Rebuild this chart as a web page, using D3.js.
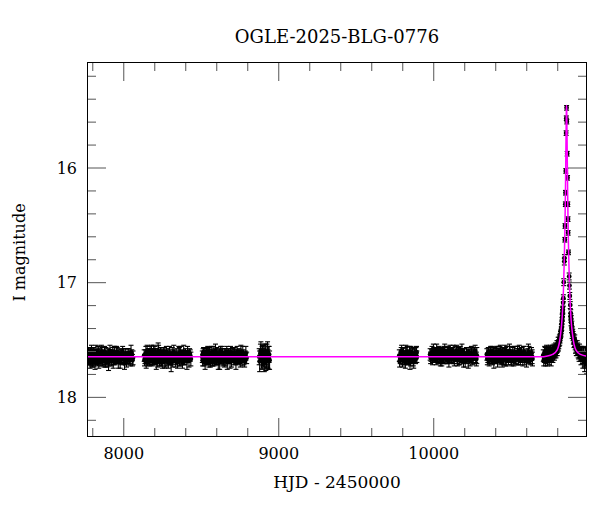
<!DOCTYPE html>
<html>
<head>
<meta charset="utf-8">
<script src="https://cdn.jsdelivr.net/npm/d3@7"></script>
<style>
  html, body { margin: 0; padding: 0; background: #fff; }
  svg { display: block; }
  text { font-family: "DejaVu Serif", "Liberation Serif", serif; fill: #000; }
</style>
</head>
<body>
<svg id="chart" width="600" height="512"></svg>
<script>
// ---------- data ----------
const title = "OGLE-2025-BLG-0776";
const xLabel = "HJD - 2450000";
const yLabel = "I magnitude";
const xMajorTicks = [8000, 9000, 10000];
const yMajorTicks = [16, 17, 18];
const xDomain = [7766, 10992];
const yDomain = [15.08, 18.35];

// [HJD-2450000, I mag, error]
const season1 = [[7768,17.66,0.04],[7774,17.63,0.05],[7779,17.68,0.04],[7783,17.65,0.06],[7788,17.62,0.05],[7793,17.69,0.04],[7797,17.64,0.05],[7802,17.67,0.07],[7808,17.61,0.04],[7813,17.66,0.05],[7818,17.70,0.06],[7822,17.63,0.04],[7828,17.65,0.05],[7834,17.68,0.05],[7839,17.62,0.06],[7845,17.66,0.04],[7851,17.64,0.05],[7856,17.69,0.04],[7862,17.63,0.06],[7868,17.67,0.05],[7873,17.65,0.04],[7879,17.61,0.05],[7885,17.68,0.06],[7892,17.64,0.04],[7898,17.66,0.05],[7905,17.70,0.07],[7911,17.63,0.04],[7918,17.65,0.05],[7925,17.67,0.06],[7932,17.62,0.05],[7939,17.68,0.04],[7946,17.64,0.08],[7953,17.66,0.05],[7961,17.61,0.04],[7968,17.69,0.06],[7976,17.65,0.05],[7984,17.63,0.04],[7992,17.67,0.05],[8000,17.64,0.06],[8008,17.71,0.05],[8017,17.62,0.04],[8026,17.66,0.05],[8035,17.65,0.07],[8045,17.68,0.05],[8055,17.63,0.04],[8063,17.66,0.06],
  [7771,17.67,0.05],[7776,17.61,0.04],[7781,17.66,0.06],[7786,17.70,0.05],[7790,17.64,0.04],[7795,17.60,0.05],[7800,17.68,0.06],[7805,17.63,0.05],[7810,17.69,0.04],[7816,17.64,0.05],[7820,17.66,0.06],[7825,17.60,0.05],[7831,17.67,0.04],[7837,17.64,0.08],[7842,17.70,0.05],[7848,17.62,0.04],[7853,17.66,0.05],[7859,17.61,0.06],[7865,17.68,0.05],[7870,17.63,0.04],[7876,17.69,0.05],[7882,17.66,0.06],[7888,17.62,0.05],[7895,17.70,0.04],[7901,17.63,0.05],[7908,17.67,0.06],[7914,17.60,0.05],[7921,17.68,0.04],[7928,17.64,0.05],[7935,17.69,0.06],[7942,17.61,0.05],[7949,17.67,0.04],[7957,17.63,0.07],[7964,17.66,0.05],[7972,17.62,0.04],[7980,17.70,0.05],[7988,17.65,0.06],[7996,17.61,0.05],[8004,17.67,0.04],[8012,17.64,0.06],[8021,17.69,0.05],[8030,17.62,0.04],[8040,17.66,0.05],[8050,17.61,0.06],[8059,17.68,0.05]];
const season2 = [[8135,17.64,0.05],[8140,17.67,0.04],[8146,17.62,0.06],[8151,17.66,0.05],[8157,17.69,0.04],[8162,17.63,0.05],[8168,17.65,0.07],[8173,17.61,0.05],[8179,17.68,0.04],[8184,17.64,0.05],[8190,17.66,0.06],[8196,17.60,0.05],[8201,17.67,0.04],[8207,17.63,0.05],[8213,17.70,0.06],[8219,17.65,0.04],[8225,17.62,0.09],[8231,17.66,0.05],[8237,17.64,0.04],[8243,17.68,0.05],[8249,17.63,0.06],[8255,17.66,0.05],[8261,17.61,0.04],[8268,17.67,0.08],[8274,17.65,0.05],[8281,17.69,0.04],[8288,17.63,0.05],[8295,17.66,0.06],[8302,17.64,0.05],[8309,17.71,0.07],[8316,17.62,0.05],[8323,17.66,0.04],[8330,17.64,0.05],[8338,17.68,0.06],[8346,17.63,0.05],[8354,17.67,0.04],[8362,17.65,0.08],[8370,17.61,0.05],[8378,17.68,0.04],[8386,17.64,0.05],[8394,17.66,0.06],[8402,17.63,0.05],[8411,17.69,0.07],[8419,17.65,0.05],[8428,17.62,0.04],[8436,17.67,0.06],
  [8137,17.68,0.05],[8143,17.63,0.04],[8148,17.70,0.05],[8154,17.61,0.06],[8160,17.66,0.05],[8165,17.62,0.04],[8171,17.68,0.05],[8176,17.64,0.06],[8182,17.60,0.05],[8187,17.69,0.04],[8193,17.63,0.05],[8199,17.66,0.06],[8204,17.61,0.05],[8210,17.67,0.04],[8216,17.63,0.05],[8222,17.68,0.06],[8228,17.60,0.05],[8234,17.69,0.04],[8240,17.62,0.05],[8246,17.66,0.07],[8252,17.70,0.05],[8258,17.64,0.04],[8264,17.62,0.05],[8271,17.68,0.06],[8278,17.61,0.05],[8285,17.66,0.04],[8291,17.70,0.05],[8298,17.62,0.06],[8305,17.67,0.05],[8312,17.65,0.04],[8319,17.69,0.05],[8326,17.61,0.06],[8334,17.67,0.05],[8342,17.64,0.04],[8350,17.70,0.05],[8358,17.62,0.06],[8366,17.68,0.05],[8374,17.64,0.04],[8382,17.70,0.05],[8390,17.61,0.06],[8398,17.67,0.05],[8406,17.64,0.04],[8415,17.61,0.05],[8424,17.68,0.06],[8432,17.64,0.05]];
const season3 = [[8510,17.65,0.05],[8515,17.62,0.04],[8520,17.68,0.05],[8526,17.64,0.06],[8531,17.66,0.05],[8537,17.61,0.04],[8542,17.67,0.05],[8548,17.64,0.06],[8553,17.69,0.05],[8559,17.63,0.04],[8565,17.66,0.05],[8571,17.62,0.06],[8577,17.68,0.05],[8583,17.64,0.04],[8589,17.66,0.05],[8595,17.60,0.06],[8601,17.67,0.05],[8607,17.65,0.04],[8613,17.69,0.07],[8619,17.63,0.05],[8625,17.66,0.04],[8631,17.64,0.05],[8637,17.62,0.06],[8643,17.68,0.05],[8649,17.65,0.04],[8655,17.63,0.05],[8662,17.67,0.06],[8668,17.61,0.05],[8675,17.66,0.04],[8682,17.64,0.05],[8689,17.69,0.06],[8696,17.63,0.05],[8703,17.66,0.04],[8710,17.65,0.07],[8717,17.62,0.05],[8724,17.68,0.04],[8731,17.64,0.05],[8739,17.66,0.06],[8747,17.63,0.05],[8755,17.70,0.04],[8763,17.65,0.05],[8771,17.62,0.06],[8779,17.67,0.05],[8787,17.64,0.04],[8796,17.66,0.05],
  [8512,17.68,0.05],[8518,17.61,0.04],[8523,17.66,0.05],[8528,17.70,0.06],[8534,17.63,0.05],[8540,17.68,0.04],[8545,17.61,0.05],[8551,17.66,0.06],[8556,17.62,0.05],[8562,17.70,0.04],[8568,17.64,0.05],[8574,17.67,0.06],[8580,17.61,0.05],[8586,17.69,0.04],[8592,17.63,0.05],[8598,17.66,0.06],[8604,17.62,0.05],[8610,17.68,0.04],[8616,17.64,0.05],[8622,17.70,0.06],[8628,17.61,0.05],[8634,17.67,0.04],[8640,17.63,0.05],[8646,17.66,0.06],[8652,17.69,0.05],[8658,17.62,0.04],[8665,17.65,0.05],[8671,17.70,0.06],[8678,17.63,0.05],[8685,17.67,0.04],[8692,17.61,0.05],[8699,17.68,0.06],[8706,17.62,0.05],[8713,17.66,0.04],[8720,17.64,0.05],[8727,17.70,0.06],[8735,17.61,0.05],[8743,17.67,0.04],[8751,17.64,0.05],[8759,17.61,0.06],[8767,17.68,0.05],[8775,17.63,0.04],[8783,17.69,0.05],[8791,17.62,0.06]];
const season4 = [[8877,17.65,0.07],[8885,17.62,0.08],[8892,17.68,0.07],[8899,17.64,0.09],[8906,17.66,0.08],[8913,17.61,0.07],[8920,17.69,0.08],[8927,17.64,0.10],[8934,17.67,0.08],[8941,17.63,0.07],
  [8880,17.69,0.09],[8888,17.60,0.08],[8896,17.66,0.10],[8903,17.62,0.07],[8910,17.70,0.08],[8917,17.63,0.09],[8924,17.67,0.08],[8931,17.61,0.09],[8938,17.66,0.10],[8944,17.68,0.08]];
const season5 = [[9781,17.64,0.05],[9787,17.67,0.04],[9793,17.62,0.05],[9799,17.66,0.06],[9805,17.63,0.05],[9811,17.68,0.04],[9817,17.65,0.05],[9823,17.61,0.06],[9829,17.67,0.05],[9835,17.64,0.04],[9841,17.66,0.05],[9847,17.62,0.06],[9853,17.68,0.05],[9859,17.65,0.04],[9865,17.63,0.05],[9871,17.67,0.06],[9877,17.64,0.05],[9883,17.66,0.04],[9889,17.62,0.05],[9894,17.65,0.05],
  [9783,17.69,0.05],[9790,17.65,0.04],[9796,17.60,0.05],[9802,17.68,0.06],[9808,17.62,0.05],[9814,17.66,0.04],[9820,17.70,0.05],[9826,17.63,0.06],[9832,17.61,0.05],[9838,17.68,0.04],[9844,17.64,0.05],[9850,17.70,0.06],[9856,17.61,0.05],[9862,17.67,0.04],[9868,17.62,0.05],[9874,17.69,0.06],[9880,17.63,0.05],[9886,17.67,0.04],[9892,17.61,0.05]];
const season6 = [[9980,17.63,0.05],[9986,17.65,0.04],[9992,17.61,0.05],[9998,17.64,0.06],[10004,17.62,0.05],[10010,17.66,0.04],[10016,17.63,0.05],[10022,17.60,0.06],[10028,17.65,0.05],[10034,17.62,0.04],[10040,17.64,0.05],[10046,17.67,0.06],[10052,17.63,0.05],[10058,17.61,0.04],[10064,17.65,0.05],[10070,17.62,0.06],[10077,17.66,0.05],[10083,17.63,0.04],[10090,17.64,0.07],[10097,17.61,0.05],[10104,17.66,0.04],[10111,17.63,0.05],[10118,17.65,0.06],[10125,17.62,0.05],[10132,17.67,0.04],[10139,17.64,0.05],[10146,17.62,0.06],[10153,17.66,0.05],[10160,17.63,0.04],[10167,17.65,0.07],[10174,17.61,0.05],[10181,17.66,0.04],[10188,17.64,0.05],[10195,17.68,0.06],[10202,17.63,0.05],[10210,17.65,0.04],[10218,17.62,0.05],[10226,17.67,0.08],[10234,17.64,0.05],[10242,17.66,0.04],[10250,17.63,0.05],[10258,17.65,0.06],[10266,17.62,0.05],[10274,17.66,0.04],[10281,17.64,0.07],
  [9983,17.66,0.05],[9989,17.63,0.04],[9995,17.67,0.05],[10001,17.60,0.06],[10007,17.64,0.05],[10013,17.61,0.04],[10019,17.67,0.05],[10025,17.63,0.06],[10031,17.66,0.05],[10037,17.60,0.04],[10043,17.62,0.05],[10049,17.65,0.06],[10055,17.68,0.05],[10061,17.62,0.04],[10067,17.66,0.05],[10074,17.60,0.06],[10080,17.64,0.05],[10087,17.67,0.04],[10094,17.62,0.05],[10101,17.68,0.06],[10108,17.60,0.05],[10115,17.66,0.04],[10122,17.63,0.05],[10129,17.61,0.06],[10136,17.68,0.05],[10143,17.65,0.04],[10150,17.60,0.05],[10157,17.67,0.06],[10164,17.62,0.05],[10171,17.68,0.04],[10178,17.63,0.05],[10185,17.60,0.06],[10192,17.66,0.05],[10199,17.62,0.04],[10206,17.69,0.05],[10214,17.63,0.06],[10222,17.66,0.05],[10230,17.61,0.04],[10238,17.68,0.05],[10246,17.62,0.06],[10254,17.67,0.05],[10262,17.64,0.04],[10270,17.60,0.05],[10278,17.67,0.06]];
const season7 = [[10346,17.63,0.05],[10352,17.66,0.04],[10358,17.62,0.05],[10364,17.65,0.06],[10370,17.61,0.05],[10376,17.64,0.04],[10382,17.67,0.05],[10388,17.63,0.06],[10394,17.65,0.05],[10400,17.62,0.04],[10406,17.66,0.05],[10412,17.64,0.06],[10418,17.61,0.05],[10424,17.65,0.04],[10430,17.63,0.07],[10436,17.67,0.05],[10442,17.64,0.04],[10448,17.62,0.05],[10454,17.66,0.06],[10460,17.63,0.05],[10467,17.65,0.08],[10474,17.61,0.05],[10481,17.66,0.04],[10488,17.64,0.05],[10495,17.62,0.06],[10502,17.67,0.05],[10509,17.63,0.04],[10516,17.65,0.05],[10523,17.62,0.06],[10530,17.66,0.05],[10537,17.64,0.04],[10544,17.61,0.05],[10551,17.65,0.07],[10558,17.63,0.05],[10566,17.66,0.04],[10574,17.64,0.05],[10582,17.62,0.06],[10590,17.67,0.05],[10598,17.63,0.04],[10606,17.65,0.05],[10614,17.62,0.08],[10622,17.66,0.05],[10630,17.64,0.04],[10638,17.65,0.06],
  [10349,17.67,0.05],[10355,17.61,0.04],[10361,17.68,0.05],[10367,17.63,0.06],[10373,17.66,0.05],[10379,17.60,0.04],[10385,17.65,0.05],[10391,17.69,0.06],[10397,17.62,0.05],[10403,17.67,0.04],[10409,17.61,0.05],[10415,17.68,0.06],[10421,17.63,0.05],[10427,17.66,0.04],[10433,17.60,0.05],[10439,17.65,0.06],[10445,17.69,0.05],[10451,17.62,0.04],[10457,17.67,0.05],[10464,17.61,0.06],[10471,17.68,0.05],[10478,17.63,0.04],[10485,17.67,0.05],[10492,17.60,0.06],[10499,17.65,0.05],[10506,17.69,0.04],[10513,17.62,0.05],[10520,17.67,0.06],[10527,17.61,0.05],[10534,17.68,0.04],[10541,17.63,0.05],[10548,17.66,0.06],[10555,17.60,0.05],[10562,17.68,0.04],[10570,17.62,0.05],[10578,17.67,0.06],[10586,17.61,0.05],[10594,17.66,0.04],[10602,17.69,0.05],[10610,17.64,0.06],[10618,17.61,0.05],[10626,17.68,0.04],[10634,17.62,0.05],[10640,17.67,0.06]];
const season8 = [[10710,17.64,0.05],[10716,17.66,0.04],[10722,17.62,0.05],[10728,17.65,0.06],[10734,17.63,0.05],[10740,17.66,0.04],[10746,17.61,0.05],[10752,17.64,0.06],[10758,17.62,0.05],[10764,17.65,0.04],[10769,17.60,0.05],[10774,17.62,0.05],[10779,17.58,0.04],[10784,17.61,0.05],[10789,17.57,0.04],[10794,17.59,0.05],[10798,17.55,0.04],[10802,17.57,0.04],[10806,17.52,0.04],[10810,17.54,0.04],[10814,17.49,0.03],[10818,17.50,0.03],[10821,17.46,0.03],[10824,17.44,0.03],[10827,17.40,0.03],[10830,17.36,0.03],[10832,17.31,0.03],[10834,17.27,0.03],[10836,17.24,0.03],[10838,17.18,0.03],[10839.5,17.14,0.03],[10842,17.00,0.03],[10845.8,16.82,0.03],[10846.5,16.79,0.03],[10849,16.63,0.02],[10850,16.51,0.02],[10852.3,16.32,0.02],[10853.2,16.22,0.02],[10855.1,16.03,0.02],[10857.2,15.70,0.02],[10858.5,15.57,0.02],[10860.3,15.48,0.02],[10861.8,15.60,0.02],[10864.2,15.88,0.02],[10866.5,16.09,0.02],[10868,16.32,0.02],[10869.5,16.45,0.02],[10870.3,16.57,0.02],[10872.5,16.74,0.02],[10877,16.95,0.03],[10878.8,17.03,0.03],[10881,17.12,0.03],[10884,17.20,0.03],[10887,17.27,0.03],[10890,17.32,0.03],[10894,17.38,0.04],[10898,17.43,0.04],[10902,17.47,0.04],[10906,17.49,0.04],[10911,17.52,0.04],[10916,17.55,0.04],[10921,17.56,0.05],[10926,17.59,0.05],[10932,17.58,0.05],[10938,17.62,0.05],[10944,17.60,0.06],[10950,17.64,0.05],[10956,17.62,0.06],[10962,17.66,0.05],[10968,17.64,0.07],[10974,17.68,0.06],[10980,17.65,0.08],[10986,17.69,0.06],[10991,17.66,0.05],
  [10713,17.68,0.05],[10719,17.61,0.05],[10725,17.67,0.06],[10731,17.60,0.05],[10737,17.68,0.05],[10743,17.63,0.06],[10749,17.67,0.05],[10755,17.60,0.05],[10761,17.67,0.06],[10767,17.63,0.05],[10772,17.65,0.05],[10777,17.61,0.05],[10782,17.63,0.05],[10787,17.60,0.05],[10792,17.62,0.04],[10796,17.58,0.04],[10800,17.60,0.04],[10804,17.55,0.04],[10808,17.56,0.04],[10812,17.52,0.04],[10816,17.52,0.03],[10819,17.48,0.03],[10823,17.45,0.03],[10826,17.42,0.03],[10829,17.39,0.03],[10831,17.34,0.03],[10833,17.30,0.03],[10835,17.25,0.03],
  [10886,17.30,0.03],[10889,17.35,0.03],[10892,17.40,0.04],[10896,17.45,0.04],[10900,17.45,0.04],[10904,17.50,0.04],[10908,17.53,0.04],[10913,17.50,0.04],[10918,17.57,0.05],[10923,17.59,0.05],[10929,17.56,0.05],[10935,17.61,0.05],[10941,17.63,0.06],[10947,17.61,0.05],[10953,17.66,0.06],[10959,17.63,0.05],[10965,17.68,0.07],[10971,17.62,0.06],[10977,17.70,0.08],[10983,17.64,0.07],[10989,17.71,0.09]];

// model curve samples [HJD-2450000, I mag]
const modelCurve = [[7766,17.65],[10700,17.65],[10730,17.645],[10770,17.63],[10800,17.59],[10820,17.47],[10832,17.30],[10840,17.07],[10846,16.78],[10850,16.49],[10853,16.20],[10855,15.96],[10857,15.70],[10858,15.58],[10859,15.49],[10860,15.46],[10861,15.49],[10862,15.58],[10863,15.70],[10865,15.96],[10867,16.20],[10870,16.49],[10874,16.78],[10880,17.07],[10888,17.30],[10900,17.47],[10920,17.59],[10950,17.63],[10992,17.645]];

// ---------- drawing ----------
const L = 87, R = 587, T = 62, B = 437;
const svg = d3.select("#chart");

const x = d3.scaleLinear().domain(xDomain).range([L, R]);
const y = d3.scaleLinear().domain(yDomain).range([T, B]);

const points = [].concat(season1, season2, season3, season4, season5, season6, season7, season8);

svg.append("defs").append("clipPath").attr("id", "clip")
  .append("rect").attr("x", L).attr("y", T).attr("width", R - L).attr("height", B - T);

const plot = svg.append("g").attr("clip-path", "url(#clip)");

// error bars
const eb = plot.append("g").attr("stroke", "#000").attr("stroke-width", 1.1);
eb.selectAll("line.v").data(points).join("line").attr("class", "v")
  .attr("x1", d => x(d[0])).attr("x2", d => x(d[0]))
  .attr("y1", d => y(d[1] - d[2])).attr("y2", d => y(d[1] + d[2]));
eb.selectAll("line.t").data(points).join("line").attr("class", "t")
  .attr("x1", d => x(d[0]) - 2.5).attr("x2", d => x(d[0]) + 2.5)
  .attr("y1", d => y(d[1] - d[2])).attr("y2", d => y(d[1] - d[2]));
eb.selectAll("line.b").data(points).join("line").attr("class", "b")
  .attr("x1", d => x(d[0]) - 2.5).attr("x2", d => x(d[0]) + 2.5)
  .attr("y1", d => y(d[1] + d[2])).attr("y2", d => y(d[1] + d[2]));

// points
plot.append("g").selectAll("circle").data(points).join("circle")
  .attr("cx", d => x(d[0])).attr("cy", d => y(d[1])).attr("r", 2.4)
  .attr("fill", "#000");

// model
plot.append("path").datum(modelCurve)
  .attr("fill", "none").attr("stroke", "#ff00ff").attr("stroke-width", 1.5)
  .attr("d", d3.line().x(d => x(d[0])).y(d => y(d[1])).curve(d3.curveMonotoneX));

// ticks
const xMinor = d3.range(7800, 11000, 200).filter(v => !xMajorTicks.includes(v));
const yMinor = d3.range(15.2, 18.4, 0.2).map(v => +v.toFixed(1)).filter(v => !yMajorTicks.includes(v));
const majLen = 19, minLen = 9;
const tickColor = "#555";

function styleAxis(g) {
  g.select(".domain").remove();
  g.selectAll(".tick line").attr("stroke", tickColor);
  g.selectAll(".tick text").style("font-family", '"DejaVu Serif", serif').style("font-size", "16px").attr("fill", "#000");
}

svg.append("g").attr("transform", `translate(0,${B})`)
  .call(d3.axisBottom(x).tickValues(xMajorTicks).tickSize(-majLen).tickFormat(d3.format("d")))
  .call(styleAxis)
  .call(g => g.selectAll(".tick text").attr("y", 22).attr("dy", 0));
svg.append("g").attr("transform", `translate(0,${B})`)
  .call(d3.axisBottom(x).tickValues(xMinor).tickSize(-minLen).tickFormat(""))
  .call(styleAxis);
svg.append("g").attr("transform", `translate(0,${T})`)
  .call(d3.axisTop(x).tickValues(xMajorTicks).tickSize(-majLen).tickFormat(""))
  .call(styleAxis);
svg.append("g").attr("transform", `translate(0,${T})`)
  .call(d3.axisTop(x).tickValues(xMinor).tickSize(-minLen).tickFormat(""))
  .call(styleAxis);

svg.append("g").attr("transform", `translate(${L},0)`)
  .call(d3.axisLeft(y).tickValues(yMajorTicks).tickSize(-majLen).tickFormat(d3.format("d")))
  .call(styleAxis)
  .call(g => g.selectAll(".tick text").attr("x", -10).attr("dy", "0.36em"));
svg.append("g").attr("transform", `translate(${L},0)`)
  .call(d3.axisLeft(y).tickValues(yMinor).tickSize(-minLen).tickFormat(""))
  .call(styleAxis);
svg.append("g").attr("transform", `translate(${R},0)`)
  .call(d3.axisRight(y).tickValues(yMajorTicks).tickSize(-majLen).tickFormat(""))
  .call(styleAxis);
svg.append("g").attr("transform", `translate(${R},0)`)
  .call(d3.axisRight(y).tickValues(yMinor).tickSize(-minLen).tickFormat(""))
  .call(styleAxis);

// frame
svg.append("rect").attr("x", L + 0.5).attr("y", T + 0.5).attr("width", R - L - 1).attr("height", B - T - 1)
  .attr("fill", "none").attr("stroke", "#000").attr("stroke-width", 1);

// labels
svg.append("text").attr("x", (L + R) / 2).attr("y", 43).attr("text-anchor", "middle")
  .style("font-size", "18px").text(title);
svg.append("text").attr("x", (L + R) / 2).attr("y", 488).attr("text-anchor", "middle")
  .style("font-size", "17px").text(xLabel);
svg.append("text").attr("transform", `translate(25,${(T + B) / 2 + 3}) rotate(-90)`).attr("text-anchor", "middle")
  .style("font-size", "16px").text(yLabel);
</script>
</body>
</html>
